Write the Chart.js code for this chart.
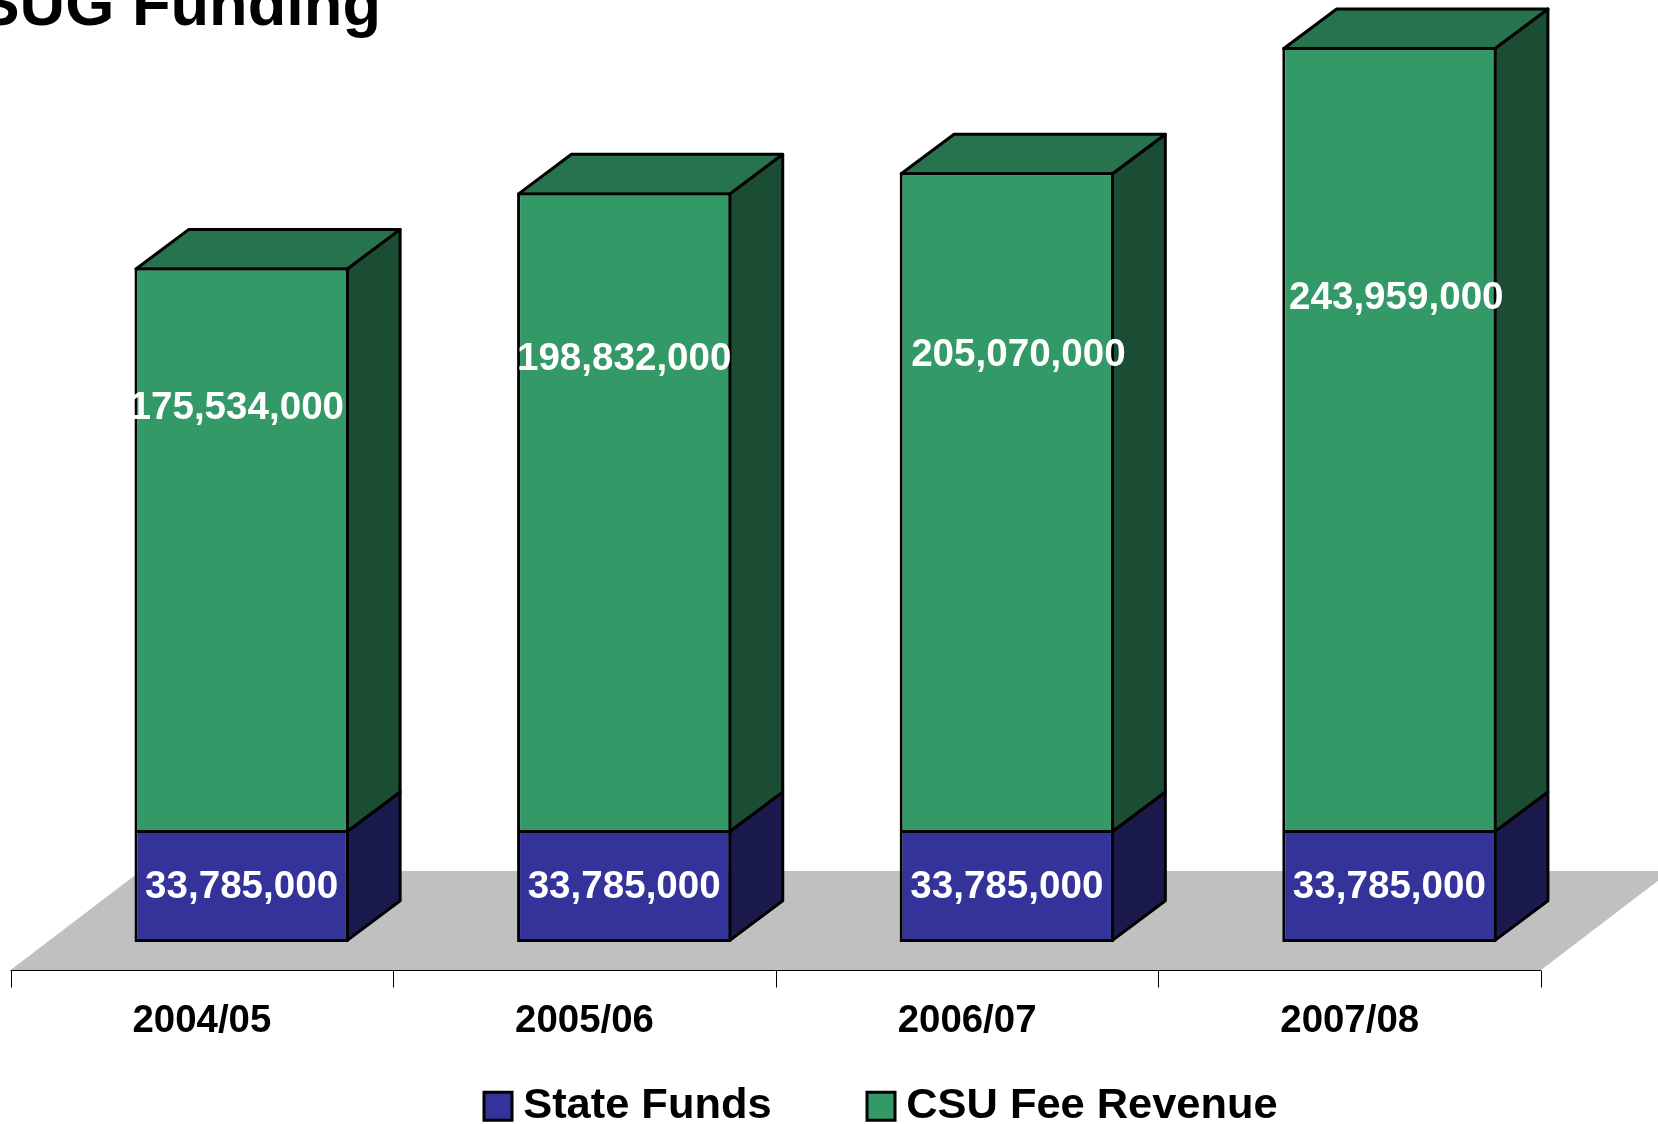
<!DOCTYPE html>
<html>
<head>
<meta charset="utf-8">
<style>
html,body{margin:0;padding:0;background:#fff;overflow:hidden}
#wrap{position:relative;width:1658px;height:1124px}
canvas{display:block}
</style>
<script src="https://cdn.jsdelivr.net/npm/chart.js@4/dist/chart.umd.min.js"></script>
</head>
<body>
<div id="wrap"><canvas id="c" width="1658" height="1124"></canvas></div>
<script>
const categories = ['2004/05', '2005/06', '2006/07', '2007/08'];
const stateFunds = [33785000, 33785000, 33785000, 33785000];
const csuFeeRevenue = [175534000, 198832000, 205070000, 243959000];
const titleText = 'SUG Funding';
const FONT = '"Liberation Sans", Arial, sans-serif';

// look of the pseudo-3D box
const depthX = 52.9, depthY = 39.6, axisShift = 39.7;
const floorFront = 28, floorBack = 71, floorDX = 130, tickLen = 17;
const edge = 3;
const sideColors = ['#1A1A4D', '#1A4D33'];
const topColor = '#26734D';
// label nudges for the fee-revenue labels relative to the bar centre / top
const greenNudgeX = [-4.8, 0, 11.6, 6.9];
const greenNudgeY = [140.8, 166.5, 183.5, 251.3];
const blueNudgeY = 0.2;
const legendShift = 107;

function fmt(v){ return v.toLocaleString('en-US'); }

const box3d = {
  id: 'box3d',
  afterLayout(chart){
    chart.legend.left += legendShift;
    chart.legend.right += legendShift;
  },
  beforeDatasetsDraw(chart){
    const ctx = chart.ctx, xS = chart.scales.x, yS = chart.scales.y;
    const y0 = yS.getPixelForValue(0);
    const band = xS.getPixelForTick(1) - xS.getPixelForTick(0);
    const left = xS.getPixelForTick(0) - band/2 - axisShift;
    const right = xS.getPixelForTick(categories.length-1) + band/2 - axisShift;
    ctx.save();
    // floor
    ctx.fillStyle = '#C0C0C0';
    ctx.beginPath();
    ctx.moveTo(left, y0 + floorFront);
    ctx.lineTo(right, y0 + floorFront);
    ctx.lineTo(right + floorDX, y0 - floorBack);
    ctx.lineTo(left + floorDX, y0 - floorBack);
    ctx.closePath();
    ctx.fill();
    // axis line and ticks
    ctx.strokeStyle = '#000'; ctx.lineWidth = 1;
    ctx.beginPath();
    const ya = Math.round(y0 + floorFront) + .5;
    ctx.moveTo(left, ya); ctx.lineTo(right, ya);
    for (let i = 0; i <= categories.length; i++){
      const tx = Math.round(left + band*i) + .5;
      ctx.moveTo(tx, ya); ctx.lineTo(tx, ya + tickLen);
    }
    ctx.stroke();
    // side and top faces
    ctx.strokeStyle = '#000'; ctx.lineWidth = edge; ctx.lineJoin = 'round';
    chart.data.datasets.forEach((ds, di) => {
      chart.getDatasetMeta(di).data.forEach(bar => {
        const p = bar.getProps(['x','y','base','width'], true);
        const r = p.x + p.width/2 - edge/2, l = p.x - p.width/2 + edge/2;
        const t = di === 0 ? p.y - edge/2 : p.y + edge/2, b = p.base - edge/2;
        ctx.fillStyle = sideColors[di];
        ctx.beginPath();
        ctx.moveTo(r, t); ctx.lineTo(r + depthX, t - depthY);
        ctx.lineTo(r + depthX, b - depthY); ctx.lineTo(r, b);
        ctx.closePath(); ctx.fill(); ctx.stroke();
        if (di === chart.data.datasets.length - 1){
          ctx.fillStyle = topColor;
          ctx.beginPath();
          ctx.moveTo(l, t); ctx.lineTo(l + depthX, t - depthY);
          ctx.lineTo(r + depthX, t - depthY); ctx.lineTo(r, t);
          ctx.closePath(); ctx.fill(); ctx.stroke();
        }
      });
    });
    ctx.restore();
  },
  afterDatasetsDraw(chart){
    const ctx = chart.ctx;
    ctx.save();
    ctx.fillStyle = '#fff';
    ctx.font = 'bold 38.6px ' + FONT;
    ctx.textAlign = 'center';
    ctx.textBaseline = 'middle';
    chart.data.datasets.forEach((ds, di) => {
      chart.getDatasetMeta(di).data.forEach((bar, i) => {
        const p = bar.getProps(['x','y','base'], true);
        const lx = di === 0 ? p.x : p.x + greenNudgeX[i];
        const ly = di === 0 ? (p.y + p.base)/2 + blueNudgeY : p.y + greenNudgeY[i];
        ctx.fillText(fmt(ds.data[i]), lx, ly);
      });
    });
    ctx.restore();
  }
};

new Chart(document.getElementById('c'), {
  type: 'bar',
  plugins: [box3d],
  data: {
    labels: categories,
    datasets: [
      { label: 'State Funds', data: stateFunds, backgroundColor: '#333399', borderColor: '#000', borderWidth: edge, borderSkipped: 'top' },
      { label: 'CSU Fee Revenue', data: csuFeeRevenue, backgroundColor: '#339966', borderColor: '#000', borderWidth: edge, borderSkipped: false }
    ]
  },
  options: {
    responsive: false,
    animation: false,
    devicePixelRatio: 1,
    layout: { padding: { left: -22.6, right: 77.3, top: -30.3, bottom: -13.9 } },
    datasets: { bar: { barPercentage: 0.56, categoryPercentage: 1 } },
    scales: {
      x: {
        stacked: true,
        grid: { display: false, drawTicks: false },
        border: { display: false },
        afterFit(s){ s.height = 36.6; },
        ticks: { color: '#000', font: { family: FONT, size: 38.4, weight: 'bold' }, mirror: true, padding: -102.6, labelOffset: -axisShift, maxRotation: 0, autoSkip: false }
      },
      y: {
        stacked: true,
        min: 0,
        max: 290000000,
        grid: { display: false },
        border: { display: false },
        ticks: { display: false },
        afterFit(s){ s.width = 72.9; }
      }
    },
    plugins: {
      title: { display: true, text: titleText, align: 'start', color: '#000', font: { family: FONT, size: 63.2, weight: 'bold' }, padding: { top: 0, bottom: -38 } },
      tooltip: { enabled: false },
      legend: {
        display: true,
        position: 'bottom',
        align: 'center',
        labels: { color: '#000', font: { family: FONT, size: 43.4, weight: 'bold' }, usePointStyle: true, pointStyle: 'rect', boxWidth: 7, boxHeight: 28, padding: 106 }
      }
    }
  }
});
</script>
</body>
</html>
